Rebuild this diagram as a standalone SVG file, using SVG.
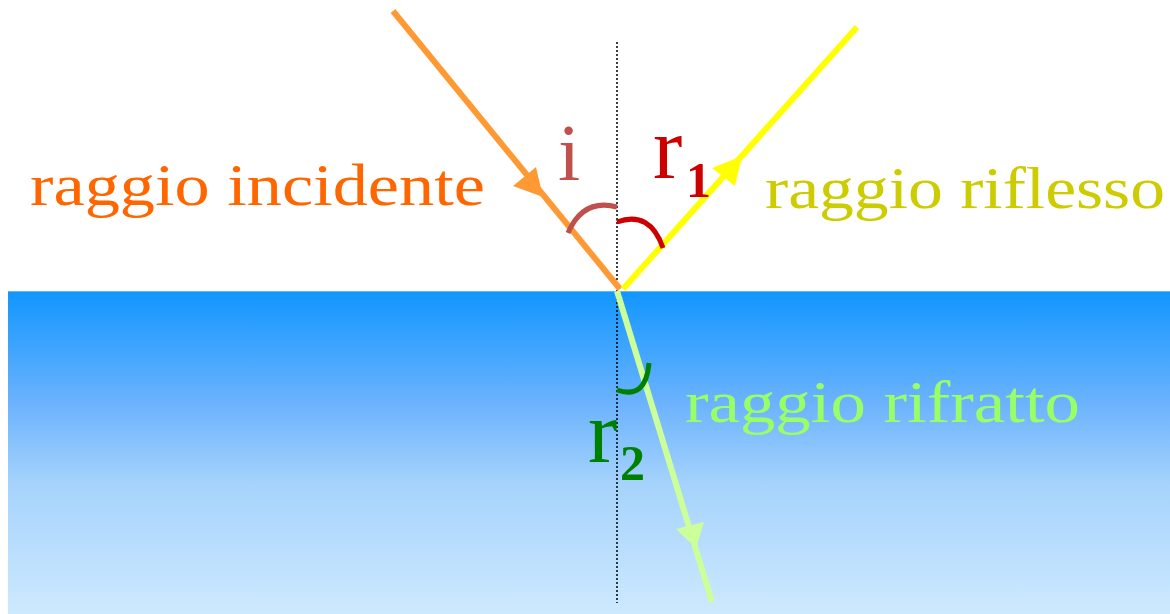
<svg xmlns="http://www.w3.org/2000/svg" width="1170" height="614" viewBox="0 0 1170 614">
<defs>
<linearGradient id="water" x1="0" y1="0" x2="0" y2="1">
<stop offset="0" stop-color="#1196ff"/>
<stop offset="0.35" stop-color="#6cb3fd"/>
<stop offset="0.6" stop-color="#a6d3fc"/>
<stop offset="1" stop-color="#cde9fe"/>
</linearGradient>
<style>
.lbl{font-family:"Liberation Serif",serif;}
.ray{fill:none;stroke-width:6;stroke-linecap:butt;}
.arc{fill:none;stroke-width:5;stroke-linecap:butt;}
</style>
</defs>
<rect width="1170" height="614" fill="#ffffff"/>
<g id="water-surface">
<rect x="8" y="291" width="1162" height="323" fill="url(#water)"/>
<line x1="8" y1="291.5" x2="1170" y2="291.5" stroke="#5fb8ff" stroke-width="1"/>
</g>
<g id="normal">
<line x1="617" y1="42" x2="617" y2="603" stroke="#000" stroke-width="1.5" stroke-dasharray="2,2"/>
</g>
<g id="connectors">
<g id="incident-ray">
<line class="ray" x1="393" y1="11" x2="620" y2="289" stroke="#ff9933"/>
<polygon points="543,197 513,186 536,167" fill="#ff9933"/>
</g>
<g id="reflected-ray">
<line class="ray" x1="623" y1="289" x2="857" y2="27" stroke="#ffff00"/>
<polygon points="742,156 712,168 735,186" fill="#ffff00"/>
</g>
<g id="refracted-ray">
<line class="ray" x1="617" y1="291" x2="712" y2="602" stroke="#ccff99"/>
<polygon points="696,548 676,529 704,522" fill="#ccff99"/>
</g>
</g>
<g id="angle-i">
<path class="arc" d="M568,233 Q583,198 617,207" stroke="#c0504d"/>
<text class="lbl" x="558" y="180" font-size="80" fill="#c0504d">i</text>
</g>
<g id="angle-r1">
<path class="arc" d="M617,222 Q650,210 663,248" stroke="#cc0000"/>
<text class="lbl" x="653" y="178" font-size="88" fill="#cc0000">r</text>
<text class="lbl" x="686" y="197" font-size="50" font-weight="bold" fill="#cc0000">1</text>
</g>
<g id="angle-r2">
<path class="arc" d="M617,390 Q646,400 649,363" stroke="#008000"/>
<text class="lbl" x="588" y="462" font-size="88" fill="#008000">r</text>
<text class="lbl" x="620" y="480" font-size="50" font-weight="bold" fill="#008000">2</text>
</g>
<g id="label-incident">
<text class="lbl" x="30" y="205" font-size="60" fill="#ff6600" textLength="455" lengthAdjust="spacingAndGlyphs">raggio incidente</text>
</g>
<g id="label-reflected">
<text class="lbl" x="765" y="208" font-size="60" fill="#cccc00" textLength="400" lengthAdjust="spacingAndGlyphs">raggio riflesso</text>
</g>
<g id="label-refracted">
<text class="lbl" x="685" y="422" font-size="60" fill="#99ff66" textLength="395" lengthAdjust="spacingAndGlyphs">raggio rifratto</text>
</g>
</svg>
